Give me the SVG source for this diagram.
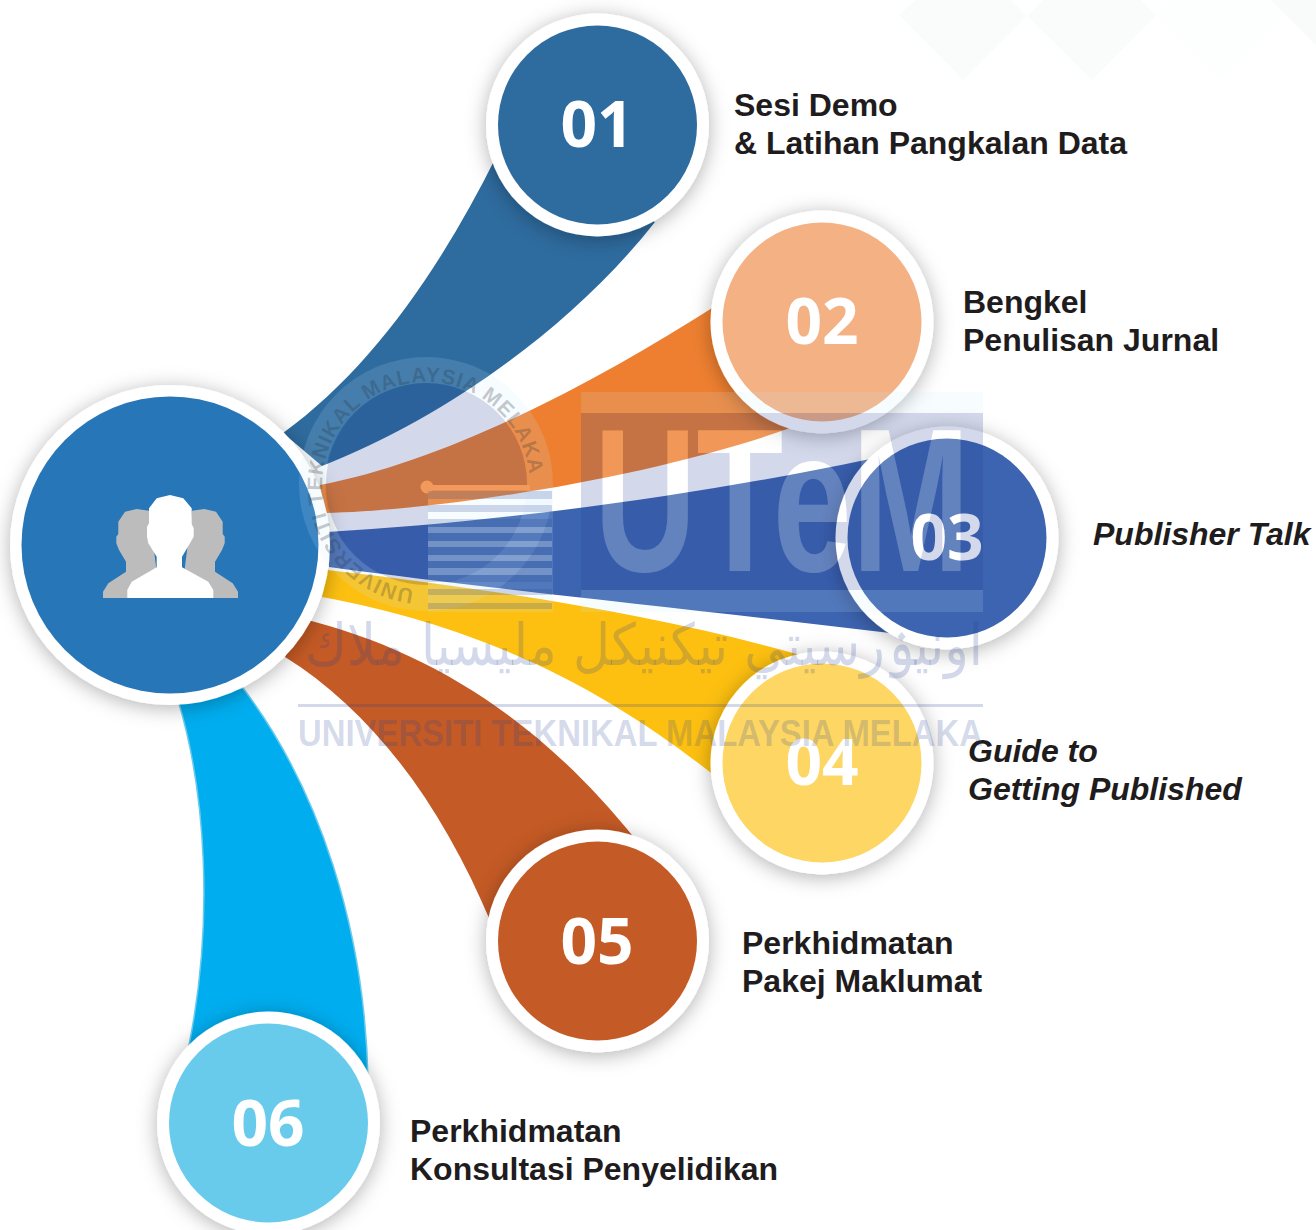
<svg xmlns="http://www.w3.org/2000/svg" xmlns:xlink="http://www.w3.org/1999/xlink" width="1316" height="1230" viewBox="0 0 1316 1230">
<style>
.lbl{font-family:"Liberation Sans",Arial,sans-serif;font-weight:700;font-size:32px;fill:#1f1c1d}
.it{font-style:italic}
.num{font-family:"Open Sans","Liberation Sans",sans-serif;font-weight:700;font-size:64px;fill:#fff;text-anchor:middle}
.ring{fill:#fff;filter:url(#sh)}
.tint{fill:#234196;fill-opacity:.2}
.pale{fill:#c8e8ff;fill-opacity:.15}
.lite{fill:#fff;fill-opacity:.2}
</style>
<defs>
<filter id="sh" x="-30%" y="-30%" width="160%" height="160%"><feDropShadow dx="0" dy="3" stdDeviation="10" flood-color="#000" flood-opacity=".3"/></filter>
<mask id="utem" maskUnits="userSpaceOnUse" x="581" y="413" width="402" height="177">
<rect x="581" y="413" width="402" height="177" fill="#fff"/>
<text x="594" y="571" textLength="376" lengthAdjust="spacingAndGlyphs" font-family="Liberation Sans" font-weight="700" font-size="205" fill="#000">UTeM</text>
</mask>
<path id="arc" d="M426 590A104 104 0 1 1 426.1 590" fill="none"/>
</defs>
<rect width="1316" height="1230" fill="#fff"/>
<g id="bg">
<polygon points="899,15 963,80 1027,16 1011,0 915,0" fill="#fafbfb"/>
<polygon points="1027,16 1092,80 1156,15 1141,0 1043,0" fill="#fafbfb"/>
<polygon points="1156,15 1220,80 1285,15 1270,0 1171,0" fill="#fdfefe"/>
<polygon points="1271,0 1316,45 1316,0" fill="#f9fafa"/>
</g>
<g id="connectors">
<path d="M283 433C370 370 440 270 497 155L655 222C570 330 440 420 322 466Z" fill="#2e6b9e"/>
<path d="M320 485C450 460 600 380 720 303L790 428C660 475 450 510 325 513Z" fill="#ee7f30"/>
<path d="M327 532C500 522 700 495 870 459L890 633C700 610 500 590 329 567Z" fill="#3d64b0"/>
<path d="M327 570C500 590 660 615 800 655L720 780C620 700 500 630 322 597Z" fill="#fdc010"/>
<path d="M300 618C430 650 540 720 636 840L492 925C440 800 370 710 285 657Z" fill="#c45a25"/>
<path d="M178 700C205 790 215 920 188 1050L368 1080C365 930 320 790 243 688Z" fill="#00adef" stroke="#69cbec" stroke-width="1.5"/>
</g>
<g id="node-01"><circle class="ring" cx="597.5" cy="125" r="111.5"/><circle cx="597.5" cy="125" r="99.5" fill="#2e6b9e"/><text class="num" x="597" y="147">01</text>
<text class="lbl" x="734" y="116">Sesi Demo</text><text class="lbl" x="734" y="154">&amp; Latihan Pangkalan Data</text></g>
<g id="node-02"><circle class="ring" cx="822" cy="322" r="111.5"/><circle cx="822" cy="322" r="99.5" fill="#f4b183"/><text class="num" x="822" y="344">02</text>
<text class="lbl" x="963" y="313">Bengkel</text><text class="lbl" x="963" y="351">Penulisan Jurnal</text></g>
<g id="node-03"><circle class="ring" cx="947" cy="538" r="111.5"/><circle cx="947" cy="538" r="99.5" fill="#3d64b0"/><text class="num" x="947" y="560">03</text>
<text class="lbl it" x="1093" y="545">Publisher Talk</text></g>
<g id="node-04"><circle class="ring" cx="822" cy="763" r="111.5"/><circle cx="822" cy="763" r="99.5" fill="#fdd663"/><text class="num" x="822" y="785">04</text>
<text class="lbl it" x="968" y="762">Guide to</text><text class="lbl it" x="968" y="800">Getting Published</text></g>
<g id="node-05"><circle class="ring" cx="597.5" cy="941" r="111.5"/><circle cx="597.5" cy="941" r="99.5" fill="#c45a25"/><text class="num" x="597" y="964">05</text>
<text class="lbl" x="742" y="954">Perkhidmatan</text><text class="lbl" x="742" y="992">Pakej Maklumat</text></g>
<g id="node-06"><circle class="ring" cx="268.5" cy="1123" r="111.5"/><circle cx="268.5" cy="1123" r="99.5" fill="#69cbec"/><text class="num" x="268" y="1146">06</text>
<text class="lbl" x="410" y="1142">Perkhidmatan</text><text class="lbl" x="410" y="1180">Konsultasi Penyelidikan</text></g>
<g id="node-main"><circle class="ring" cx="170" cy="545" r="160"/><circle cx="170" cy="545" r="148.5" fill="#2776b8"/>
<polygon fill="#bcbcbc" points="103,598 103,591.7 108.3,583.3 126,571.7 126,561.7 119,550 116.3,543.3 116.3,536.7 118.3,534 118.3,521.7 125,511.7 136.7,509 149,510.7 160,598"/>
<polygon fill="#bcbcbc" points="238,598 238,591.7 232.7,583.3 215,571.7 215,561.7 222,550 224.7,543.3 224.7,536.7 222.7,534 222.7,521.7 216,511.7 204.3,509 192,510.7 181,598"/>
<polygon fill="#fff" points="127.3,598 127.3,590 131.7,581.7 156.7,567.3 156.7,556.7 148.3,543.3 147,536.7 147,526.7 149,523.3 149,508.3 156.7,498.3 170,495 183.3,498.3 191.7,508.3 191.7,524 193.7,528.3 193.7,536.7 190,543.3 182,556.7 182,567.3 208.3,581.7 213.3,590 213.3,598"/></g>
<g id="watermark">
<path class="pale" fill-rule="evenodd" fill-opacity=".2" d="M299 484a127 127 0 1 0 254 0a127 127 0 1 0-254 0ZM325 484a101 101 0 1 0 202 0a101 101 0 1 0-202 0Z"/>
<path class="tint" d="M426 383A101 101 0 0 1 527 484L527 488H428V585A101 101 0 0 1 426 383Z"/>
<text font-family="Liberation Sans" font-weight="700" font-size="21" fill="#2a2f3a" fill-opacity=".26"><textPath href="#arc" xlink:href="#arc" startOffset="12" textLength="466" lengthAdjust="spacing">UNIVERSITI TEKNIKAL MALAYSIA MELAKA</textPath></text>
<rect class="pale" x="428" y="490" width="125" height="122"/>
<circle cx="427" cy="487" r="6.5" fill="#f19a5c"/><rect x="427" y="485" width="103" height="5" fill="#f19a5c"/>
<g class="tint"><rect x="428" y="491" width="124" height="8"/><rect x="428" y="505" width="124" height="7"/><rect x="428" y="519" width="124" height="8"/><rect x="428" y="533" width="124" height="8"/><rect x="428" y="547" width="124" height="8"/><rect x="428" y="561" width="124" height="7"/><rect x="428" y="575" width="124" height="7"/><rect x="428" y="589" width="124" height="6"/><rect x="428" y="603" width="124" height="6"/></g>
<g class="lite"><rect x="428" y="527" width="124" height="6"/><rect x="428" y="541" width="124" height="6"/><rect x="428" y="555" width="124" height="6"/><rect x="428" y="568" width="124" height="7"/></g>
<rect class="pale" x="581" y="392" width="402" height="21"/>
<rect class="pale" x="581" y="590" width="402" height="22"/>
<rect class="tint" x="581" y="413" width="402" height="177" mask="url(#utem)"/>
<text class="lite" x="594" y="571" textLength="376" lengthAdjust="spacingAndGlyphs" font-family="Liberation Sans" font-weight="700" font-size="205">UTeM</text>
<text class="tint" x="983" y="665" direction="rtl" textLength="678" lengthAdjust="spacingAndGlyphs" font-family="DejaVu Sans,sans-serif" font-size="58">اونيۏرسيتي تيكنيكل مليسيا ملاك</text>
<rect class="tint" x="298" y="704" width="685" height="3"/>
<text class="tint" x="298" y="746" textLength="685" lengthAdjust="spacingAndGlyphs" font-family="Liberation Sans" font-weight="700" font-size="37">UNIVERSITI TEKNIKAL MALAYSIA MELAKA</text>
</g>
</svg>
